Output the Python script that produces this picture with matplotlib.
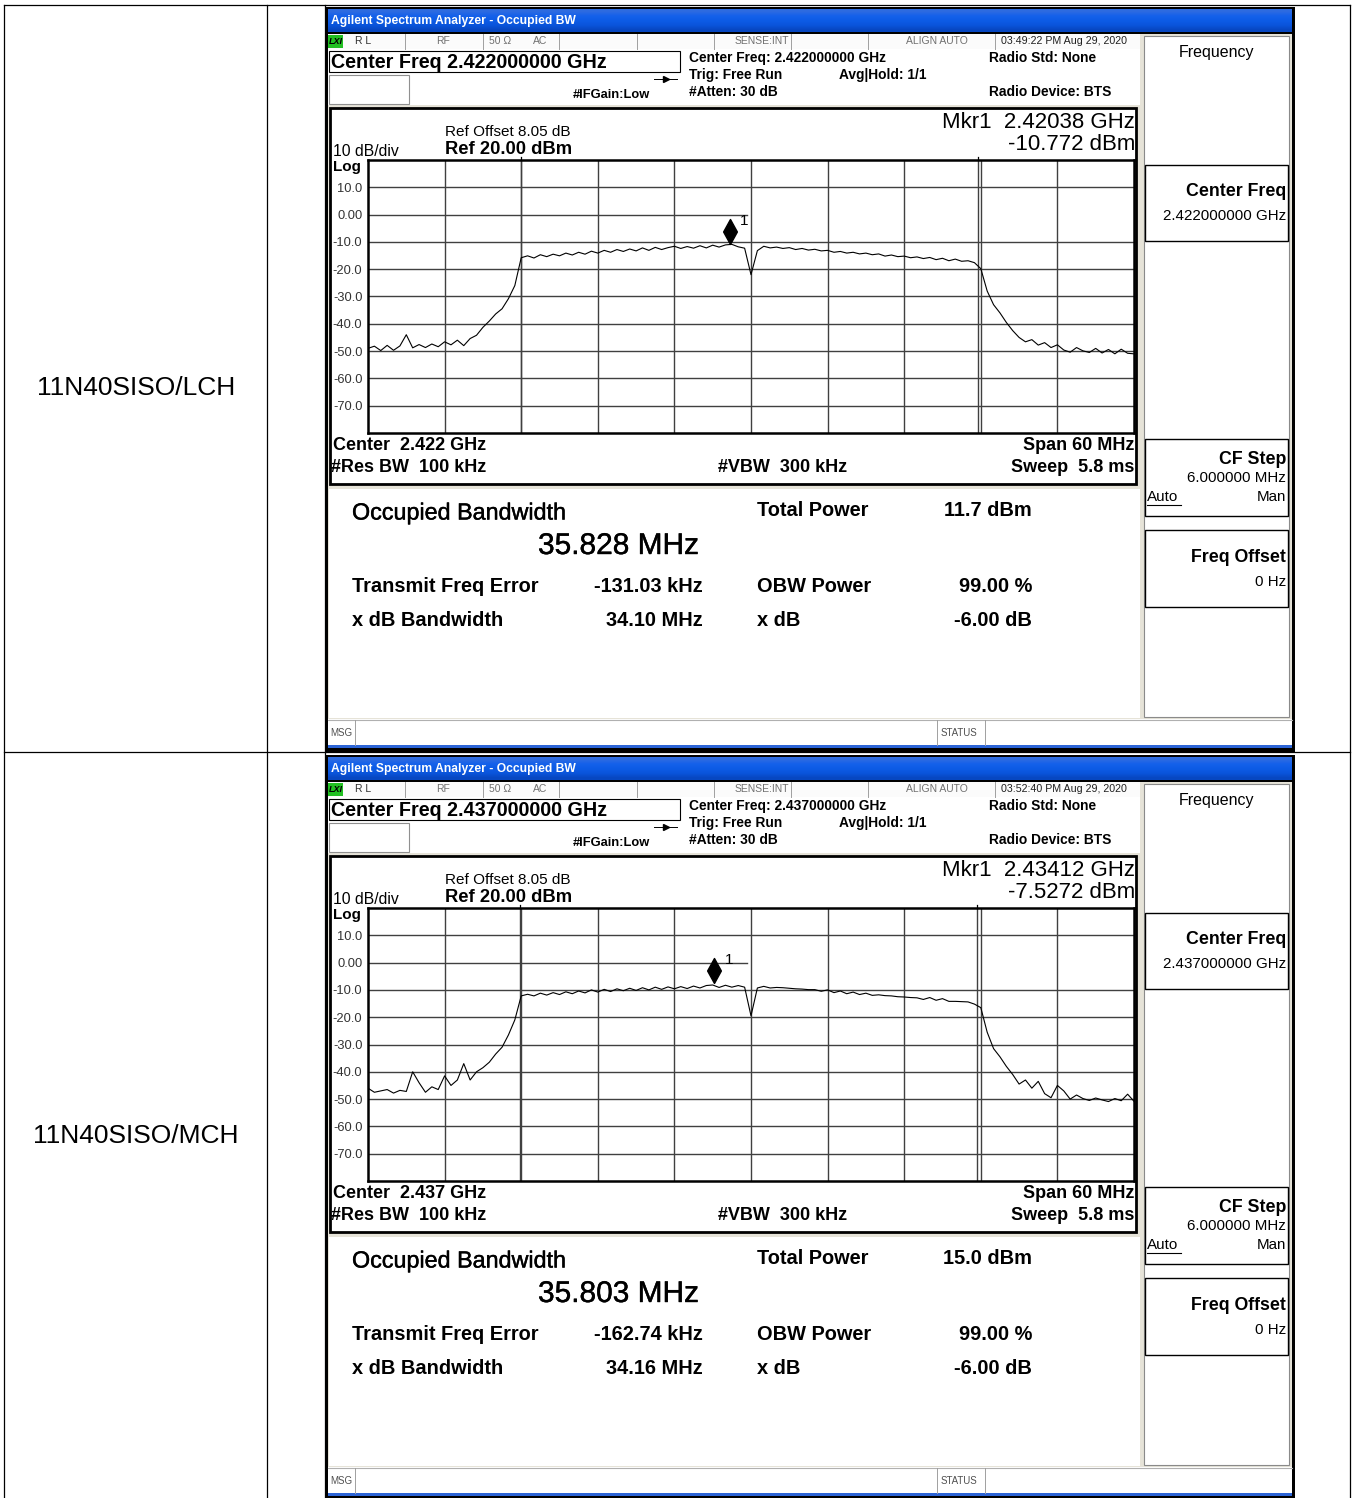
import numpy as np
import matplotlib
matplotlib.use("Agg")
from matplotlib import pyplot as plt
from matplotlib import patheffects
from matplotlib.patches import Rectangle
from matplotlib.path import Path

plt.rcParams['font.family'] = ['Liberation Sans', 'DejaVu Sans']

W, H = 1352, 1498

row_labels = ["11N40SISO/LCH", "11N40SISO/MCH"]
center_freqs = ["2.422000000", "2.437000000"]
center_short = ["2.422", "2.437"]
timestamps = ["03:49:22 PM Aug 29, 2020", "03:52:40 PM Aug 29, 2020"]
mkr_freqs = ["2.42038", "2.43412"]
mkr_levels = [-10.772, -7.5272]
mkr_positions = [-1.65, -2.9]          # MHz from center, where the diamond sits
obw_mhz = [35.828, 35.803]
freq_err_khz = [-131.03, -162.74]
xdb_bw_mhz = [34.10, 34.16]
total_power = [11.7, 15.0]

# trace: 0.5 MHz steps across the 60 MHz span
freq_offsets = np.arange(-30, 30.01, 0.5)
lch_levels = [
    -49.0, -48.2, -49.8, -47.9, -49.7, -48.1, -44.0, -48.8, -47.6, -48.7,
    -47.4, -48.4, -46.6, -47.7, -46.0, -48.0, -45.4, -44.2, -41.3, -39.0,
    -36.4, -34.5, -30.8, -26.0, -15.8, -15.1, -15.9, -14.7, -15.4, -14.5,
    -15.1, -14.1, -14.8, -13.8, -14.5, -13.4, -14.1, -13.1, -13.8, -12.8,
    -13.5, -12.6, -13.3, -12.2, -13.1, -12.0, -12.8, -12.1, -11.6, -12.4,
    -11.7, -12.3, -11.4, -12.2, -11.2, -11.9, -11.1, -10.9, -11.8, -12.3,
    -22.0, -13.2, -11.6, -12.2, -11.9, -12.4, -12.1, -12.8, -12.4, -13.0,
    -12.7, -13.3, -13.1, -13.8, -13.5, -14.1, -13.8, -14.4, -14.1, -14.7,
    -14.4, -15.2, -14.8, -15.4, -15.2, -15.8, -15.5, -16.1, -15.7, -16.5,
    -16.0, -16.9, -16.3, -17.1, -16.9, -17.6, -19.8, -28.0, -33.0, -36.0,
    -39.5, -42.5, -45.0, -46.6, -45.8, -47.8, -46.9, -48.7, -47.7, -49.6,
    -50.4, -48.7, -49.9, -50.5, -49.0, -50.7, -49.4, -51.0, -49.3, -50.8,
    -51.0,
]
mch_levels = [
    -46.0, -47.5, -47.0, -46.5, -47.8, -46.8, -47.2, -40.0, -44.0, -47.5,
    -45.5, -46.5, -41.5, -45.0, -43.0, -37.0, -43.0, -40.0, -38.5, -36.5,
    -33.5, -31.0, -26.5, -21.0, -12.2, -11.6, -12.2, -11.2, -11.9, -11.0,
    -11.7, -10.7, -11.4, -10.4, -11.1, -10.0, -10.8, -9.8, -10.6, -9.6,
    -10.3, -9.4, -10.2, -9.2, -10.0, -9.0, -9.8, -8.9, -9.6, -8.8,
    -9.5, -8.6, -9.3, -8.4, -8.2, -9.1, -8.3, -9.0, -8.4, -9.0,
    -19.5, -9.3, -8.7, -9.3, -9.1, -9.2, -9.4, -9.6, -9.7, -9.9,
    -9.9, -10.5, -10.0, -11.0, -10.4, -11.4, -10.8, -11.7, -11.2, -12.0,
    -11.8, -12.1, -12.2, -12.5, -12.6, -12.8, -12.9, -13.5, -12.8, -13.8,
    -13.2, -14.2, -14.2, -14.3, -14.4, -15.2, -16.5, -25.5, -31.5, -34.5,
    -38.0, -41.0, -44.5, -43.0, -46.0, -43.5, -48.0, -49.5, -45.0, -47.0,
    -50.0, -48.5, -49.8, -50.5, -49.6, -50.3, -50.9, -49.8, -50.6, -48.2,
    -50.8,
]
traces = [lch_levels, mch_levels]

ROW_DY = 748
GRID = "#404040"
BEIGE = "#e6e3d8"
SEMI = [patheffects.withStroke(linewidth=0.3, foreground="black")]


def box(x0, y0, x1, y1):
    return [x0 / W, 1 - y1 / H, (x1 - x0) / W, (y1 - y0) / H]


def rect(ax, x0, y0, x1, y1, fc="white", ec="none", lw=0.0, z=1):
    ax.add_patch(Rectangle((x0, y0), x1 - x0, y1 - y0, facecolor=fc,
                           edgecolor=ec, linewidth=lw, zorder=z))


def text(ax, x, y, s, size, weight="normal", ha="left", color="black", **kw):
    ax.text(x, y, s, fontsize=size, fontweight=weight, ha=ha, va="center",
            color=color, zorder=6, **kw)


def vline(ax, x, y0, y1, color="#a0a0a0", lw=0.7, z=3):
    ax.plot([x, x], [y0, y1], color=color, lw=lw, zorder=z)


def draw_screen(bg, i, dy):
    y = lambda v: v + dy
    rect(bg, 325, y(7), 1295, y(752) if i == 0 else H + 5, fc="black", z=1)

    # title bar
    grad = np.array([[0.18, 0.42, 0.88], [0.08, 0.38, 0.92], [0.05, 0.36, 0.90],
                     [0.04, 0.33, 0.86], [0.03, 0.28, 0.76]])[:, None, :]
    bg.imshow(grad, extent=(328, 1292, y(32), y(9)), aspect="auto",
              interpolation="bilinear", zorder=2)
    text(bg, 331, y(21), "Agilent Spectrum Analyzer - Occupied BW", 8.7,
         "bold", color="white")

    # status row
    rect(bg, 328, y(34), 1140, y(49), fc="#fbfbfb", z=2)
    for x in [405, 483, 559, 637, 714, 791, 868, 995]:
        vline(bg, x, y(34), y(49))
    rect(bg, 328, y(35), 343, y(48), fc="#22c022", z=3)
    text(bg, 329, y(41.5), "LXI", 6.5, "bold", style="italic")
    st = "#707070"
    text(bg, 355, y(41.5), "R L", 7.5, color="#303030")
    text(bg, 443, y(41.5), "RF", 7.5, color=st, ha="center")
    text(bg, 489, y(41.5), "50 Ω", 7.5, color=st)
    text(bg, 533, y(41.5), "AC", 7.5, color=st)
    text(bg, 789, y(41.5), "SENSE:INT", 7.5, color=st, ha="right")
    text(bg, 968, y(41.5), "ALIGN AUTO", 7.5, color=st, ha="right")
    text(bg, 1064, y(41.5), timestamps[i], 7.7, color="#202020", ha="center")

    # header
    rect(bg, 328, y(49), 1140, y(105), fc="white", z=2)
    rect(bg, 329, y(51), 680, y(72), fc="white", ec="black", lw=0.8, z=3)
    text(bg, 331, y(62), "Center Freq " + center_freqs[i] + " GHz", 14.2, "bold")
    rect(bg, 329, y(75), 409, y(104), fc="white", ec="#909090", lw=0.8, z=3)
    bg.plot([654, 677], [y(79), y(79)], color="black", lw=0.7, zorder=4)
    bg.plot([666], [y(79)], marker=">", ms=4, color="black", zorder=4)
    text(bg, 573, y(95), "#IFGain:Low", 9.3, "bold")
    text(bg, 689, y(58), "Center Freq: " + center_freqs[i] + " GHz", 9.9, "bold")
    text(bg, 689, y(75), "Trig: Free Run", 9.9, "bold")
    text(bg, 689, y(92), "#Atten: 30 dB", 9.9, "bold")
    text(bg, 839, y(75), "Avg|Hold: 1/1", 9.9, "bold")
    text(bg, 989, y(58), "Radio Std: None", 9.9, "bold")
    text(bg, 989, y(92), "Radio Device: BTS", 9.9, "bold")

    # graph box and results area
    rect(bg, 328, y(105), 1140, y(719), fc=BEIGE, z=2)
    rect(bg, 330, y(108), 1136, y(484), fc="white", ec="black", lw=2.0, z=3)
    rect(bg, 329, y(489), 1140, y(718), fc="white", z=3)
    text(bg, 445, y(132), "Ref Offset 8.05 dB", 11)
    text(bg, 445, y(150), "Ref 20.00 dBm", 13.2, "bold")
    text(bg, 333, y(151), "10 dB/div", 11.3)
    text(bg, 333, y(167), "Log", 11, "bold")
    text(bg, 1135, y(123), "Mkr1  " + mkr_freqs[i] + " GHz", 16, ha="right")
    text(bg, 1135, y(145), f"{mkr_levels[i]} dBm", 16, ha="right")
    text(bg, 333, y(446), "Center  " + center_short[i] + " GHz", 13, "bold")
    text(bg, 331, y(467), "#Res BW  100 kHz", 13, "bold")
    text(bg, 718, y(467), "#VBW  300 kHz", 13, "bold")
    text(bg, 1134, y(446), "Span 60 MHz", 13, "bold", ha="right")
    text(bg, 1134, y(467), "Sweep  5.8 ms", 13, "bold", ha="right")

    text(bg, 352, y(513), "Occupied Bandwidth", 16.8, path_effects=SEMI)
    text(bg, 538, y(546), f"{obw_mhz[i]:.3f} MHz", 21.5, path_effects=SEMI)
    text(bg, 352, y(587), "Transmit Freq Error", 14.4, "bold")
    text(bg, 703, y(587), f"{freq_err_khz[i]:.2f} kHz", 14.4, "bold", ha="right")
    text(bg, 352, y(621), "x dB Bandwidth", 14.4, "bold")
    text(bg, 703, y(621), f"{xdb_bw_mhz[i]:.2f} MHz", 14.4, "bold", ha="right")
    text(bg, 757, y(510), "Total Power", 14.4, "bold")
    text(bg, 1032, y(510), f"{total_power[i]:.1f} dBm", 14.4, "bold", ha="right")
    text(bg, 757, y(587), "OBW Power", 14.4, "bold")
    text(bg, 1032, y(587), "99.00 %", 14.4, "bold", ha="right")
    text(bg, 757, y(621), "x dB", 14.4, "bold")
    text(bg, 1032, y(621), "-6.00 dB", 14.4, "bold", ha="right")

    # softkey panel
    rect(bg, 1140, y(34), 1292, y(719), fc=BEIGE, z=2)
    rect(bg, 1144, y(36), 1289, y(717), fc="white", ec="#8a8a8a", lw=0.8, z=3)
    text(bg, 1217, y(53), "Frequency", 11.5, ha="center")
    for k0, k1 in [(165, 241), (439, 516), (530, 607)]:
        rect(bg, 1145, y(k0), 1288, y(k1), fc="white", ec="black", lw=1.0, z=4)
    text(bg, 1286, y(191), "Center Freq", 12.8, "bold", ha="right")
    text(bg, 1286, y(216), center_freqs[i] + " GHz", 10.9, ha="right")
    text(bg, 1286, y(459), "CF Step", 12.8, "bold", ha="right")
    text(bg, 1286, y(478), "6.000000 MHz", 10.9, ha="right")
    text(bg, 1147, y(497), "Auto", 10.9)
    bg.plot([1147, 1181], [y(505), y(505)], color="black", lw=0.8, zorder=6)
    text(bg, 1286, y(497), "Man", 10.9, ha="right")
    text(bg, 1286, y(557), "Freq Offset", 12.8, "bold", ha="right")
    text(bg, 1286, y(582), "0 Hz", 10.9, ha="right")

    # bottom status bar
    rect(bg, 328, y(719), 1292, y(745), fc="white", z=2)
    bg.plot([328, 1292], [y(719.5), y(719.5)], color="#b0b0b0", lw=0.8, zorder=3)
    vline(bg, 355, y(720), y(745))
    vline(bg, 937, y(720), y(745))
    vline(bg, 985, y(720), y(745))
    text(bg, 330, y(733), "MSG", 7, color="#505050")
    text(bg, 941, y(733), "STATUS", 7, color="#505050")
    rect(bg, 328, y(745), 1292, y(748), fc="#2c64d6", z=2)


def draw_trace(fig, i, dy):
    ax = fig.add_axes(box(368, 160 + dy, 1134, 433 + dy))
    ax.set_xlim(-30, 30)
    ax.set_ylim(-80, 20)
    ax.set_facecolor("white")
    for gx in np.arange(-24, 30, 6):
        ax.axvline(gx, color=GRID, lw=1.0, zorder=1)
    for gy in np.arange(-70, 20, 10):
        # the 0 dB graticule line is cut off right of the marker label
        xmax = 0.495 if gy == 0 else 1.0
        ax.axhline(gy, xmax=xmax, color=GRID, lw=1.0, zorder=1)

    err = freq_err_khz[i] / 1000.0
    for edge in (err - obw_mhz[i] / 2, err + obw_mhz[i] / 2):
        ax.axvline(edge, color=GRID, lw=1.0, zorder=1)
        ax.plot([edge, edge], [20, 21.2], color="black", lw=0.9, clip_on=False)

    ax.plot(freq_offsets, traces[i], color="black", lw=0.8, zorder=3)

    tip = Path([(0, 0), (0.55, 1.0), (0, 2.0), (-0.55, 1.0), (0, 0)],
               [Path.MOVETO, Path.LINETO, Path.LINETO, Path.LINETO, Path.CLOSEPOLY])
    ax.plot([mkr_positions[i]], [mkr_levels[i]], marker=tip, ms=36,
            color="black", zorder=4)
    ax.annotate("1", (mkr_positions[i], mkr_levels[i]), xytext=(7.5, 16.5),
                textcoords="offset points", fontsize=11, ha="left", va="center")

    yt = np.arange(-80, 21, 10)
    ax.set_yticks(yt)
    ax.set_yticklabels(["" if v in (-80, 20) else ("0.00" if v == 0 else f"{v:.1f}")
                        for v in yt])
    ax.set_xticks([])
    ax.tick_params(axis="y", length=0, labelsize=9.3, pad=4, labelcolor="#333333")
    for s in ax.spines.values():
        s.set_linewidth(1.8)
        s.set_color("black")


def main():
    fig = plt.figure(figsize=(W / 100, H / 100), dpi=100)
    bg = fig.add_axes([0, 0, 1, 1])
    bg.axis("off")

    # table grid
    tl = dict(color="black", lw=0.9, zorder=0.5)
    bg.plot([4, 1350], [5, 5], **tl)
    bg.plot([4, 1350], [752, 752], **tl)
    for x in (4, 267, 325, 1350):
        bg.plot([x, x], [5, H + 5], **tl)

    for i in range(2):
        dy = i * ROW_DY
        text(bg, 136, 388 + dy, row_labels[i], 19, ha="center")
        draw_screen(bg, i, dy)

    bg.set_xlim(0, W)
    bg.set_ylim(H, 0)

    for i in range(2):
        draw_trace(fig, i, i * ROW_DY)

    fig.savefig("out.png", dpi=100)


if __name__ == "__main__":
    main()
